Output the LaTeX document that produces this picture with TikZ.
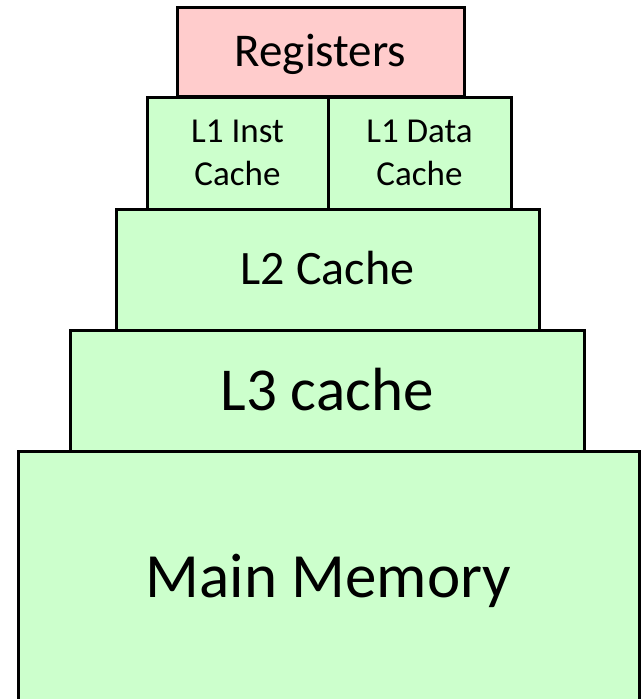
\documentclass[tikz,border=0pt]{standalone}
\usepackage{fontspec}
\setmainfont{Carlito}
\usepackage{xcolor}
\definecolor{levelgreen}{HTML}{CCFFCC}
\definecolor{regpink}{HTML}{FFCCCC}

\begin{document}
\begin{tikzpicture}[x=1pt, y=-1pt,
		level/.style={draw, rectangle, line width=3pt, fill=levelgreen, inner sep=0pt, outer sep=0pt, align=center, text depth=0pt},
		twoline/.style={level, text height=64.5pt, font=\fontsize{35}{42.5}\selectfont}]
	\useasboundingbox (0,0) rectangle (642,699);
	\clip (0,0) rectangle (642,699);
	% memory hierarchy, top to bottom
	\node[level, fill=regpink, minimum width=287pt, minimum height=89pt, text height=29.5pt, font=\fontsize{47}{56}\selectfont] (reg) at (320.5,51.5) {Registers};
	\node[twoline, minimum width=181pt, minimum height=112pt] (l1i) at (237.5,153) {L1 Inst\\Cache};
	\node[twoline, minimum width=183pt, minimum height=112pt] (l1d) at (419.5,153) {L1 Data\\Cache};
	\node[level, minimum width=423pt, minimum height=121pt, text height=30pt, font=\fontsize{48}{57}\selectfont] (l2) at (327.5,269.5) {L2 Cache};
	\node[level, minimum width=514pt, minimum height=121pt, text height=38.5pt, font=\fontsize{61}{73}\selectfont] (l3) at (327,391) {L3 cache};
	\node[level, minimum width=621pt, minimum height=252pt, text height=40pt, font=\fontsize{63}{75}\selectfont] (mem) at (328.5,577) {Main Memory};
\end{tikzpicture}
\end{document}
